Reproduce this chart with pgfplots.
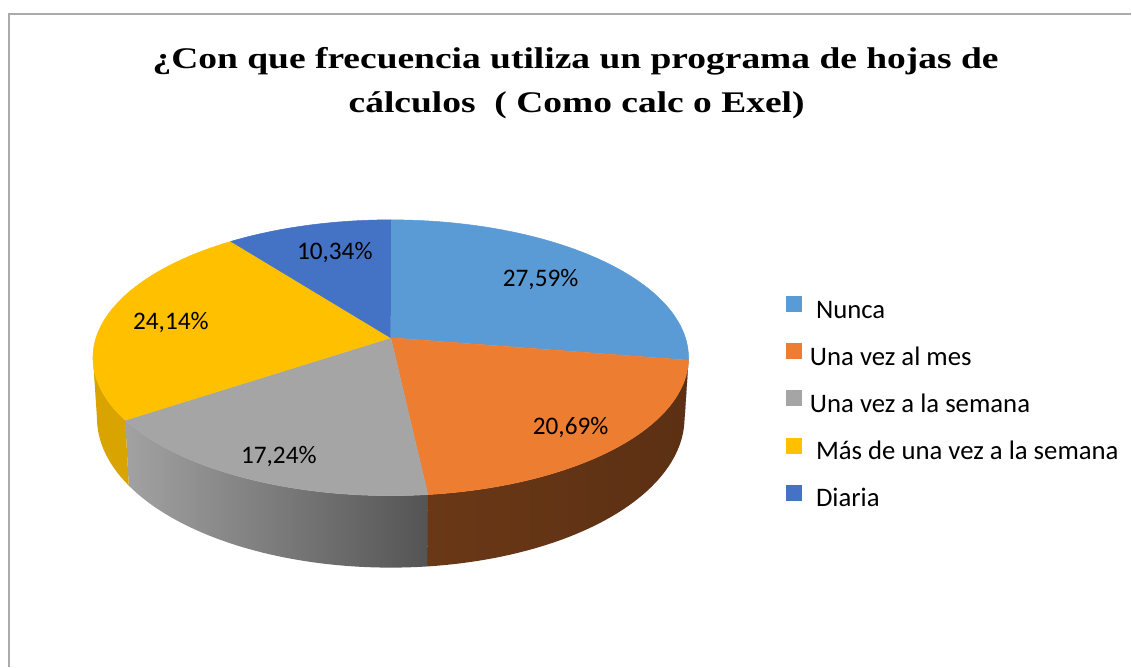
\documentclass[border=0pt]{standalone}
\usepackage{pgfplots}
\pgfplotsset{compat=1.18}
\usepackage{pgfplotstable}
\usepackage{fontspec}
\newfontfamily\carlito{Carlito}
\newfontfamily\titlefont{Liberation Serif}[FakeStretch=1.25]

\definecolor{c1}{HTML}{5B9BD5}
\definecolor{c2}{HTML}{ED7D31}
\definecolor{c3}{HTML}{A5A5A5}
\definecolor{c4}{HTML}{FFC000}
\definecolor{c5}{HTML}{4472C4}
\definecolor{s1}{HTML}{3D6E9E}
\definecolor{s2a}{HTML}{6A3816}
\definecolor{s2b}{HTML}{5C3014}
\definecolor{s3a}{HTML}{A2A2A2}
\definecolor{s3b}{HTML}{545454}
\definecolor{s4}{HTML}{D9A400}
\definecolor{framec}{HTML}{ABABAB}

% shares (percent) of each answer
\pgfplotstableread{
value
27.59
20.69
17.24
24.14
10.34
}\piedata

\pgfplotstablegetelem{0}{value}\of\piedata\edef\vA{\pgfplotsretval}
\pgfplotstablegetelem{1}{value}\of\piedata\edef\vB{\pgfplotsretval}
\pgfplotstablegetelem{2}{value}\of\piedata\edef\vC{\pgfplotsretval}
\pgfplotstablegetelem{3}{value}\of\piedata\edef\vD{\pgfplotsretval}
\pgfplotstablegetelem{4}{value}\of\piedata\edef\vE{\pgfplotsretval}

% true angles of slice borders (clockwise from 12 o'clock)
\pgfmathsetmacro\tA{90}
\pgfmathsetmacro\tB{\tA-3.6*\vA}
\pgfmathsetmacro\tC{\tB-3.6*\vB}
\pgfmathsetmacro\tD{\tC-3.6*\vC}
\pgfmathsetmacro\tE{\tD-3.6*\vD}
\pgfmathsetmacro\tF{\tE-3.6*\vE}

% perspective (projective) shift of the disc
\def\ps{-0.145}
\newcommand\mapang[2]{%
 \pgfmathsetmacro\pmU{cos(#1)}%
 \pgfmathsetmacro\pmV{-sin(#1)}%
 \pgfmathsetmacro\pmD{1+(\ps)*(\pmV)}%
 \pgfmathsetmacro\pmVp{((\pmV)+(\ps))/(\pmD)}%
 \pgfmathsetmacro\pmUp{(\pmU)*sqrt(1-(\ps)*(\ps))/(\pmD)}%
 \pgfmathsetmacro#2{atan2(-(\pmVp),\pmUp)}%
}
\mapang{\tA}{\pA}
\mapang{\tB}{\pB}
\mapang{\tC}{\pC}
\mapang{\tD}{\pD}
\mapang{\tE}{\pE}
\mapang{\tF}{\pF}
\pgfmathsetmacro\pB{(\pB)>(\pA) ? (\pB)-360 : (\pB)}
\pgfmathsetmacro\pC{(\pC)>(\pB) ? (\pC)-360 : (\pC)}
\pgfmathsetmacro\pD{(\pD)>(\pC) ? (\pD)-360 : (\pD)}
\pgfmathsetmacro\pE{(\pE)>(\pD) ? (\pE)-360 : (\pE)}
\pgfmathsetmacro\pF{(\pF)>(\pE) ? (\pF)-360 : (\pF)}

% geometry (pixel units)
\def\cx{391}\def\cy{358}\def\rx{298}\def\ry{138}
\def\cyb{418}\def\ryb{150}\def\rxb{294}
\pgfmathsetmacro\apy{\cy+(\ps)*\ry}

% visible side ranges
\pgfmathsetmacro\hiA{min(\pA,0)}\pgfmathsetmacro\loA{max(\pB,-180)}
\pgfmathsetmacro\hiB{min(\pB,0)}\pgfmathsetmacro\loB{max(\pC,-180)}
\pgfmathsetmacro\hiC{min(\pC,0)}\pgfmathsetmacro\loC{max(\pD,-180)}
\pgfmathsetmacro\hiD{min(\pD,0)}\pgfmathsetmacro\loD{max(\pE,-180)}

\newcommand\topslice[3]{% color, start, end
 \addplot[draw=#1, line width=0.2bp, fill=#1, forget plot, samples at={-1,0,0.02,...,1.001}, variable=\t]
  ({\t<0 ? \cx : \cx+\rx*cos(#2+((#3)-(#2))*\t)},
   {\t<0 ? \apy : \cy-\ry*sin(#2+((#3)-(#2))*\t)});
}
\newcommand\sidewall[3]{% style, hi, lo
 \addplot[draw=none, #1, forget plot, samples at={0,0.02,...,2.001}, variable=\t]
  ({\t<1.01 ? \cx+\rx*cos(#2+((#3)-(#2))*min(\t,1)) : \cx+\rxb*cos(#3+((#2)-(#3))*max(\t-1.02,0)/0.98)},
   {\t<1.01 ? \cy-\ry*sin(#2+((#3)-(#2))*min(\t,1)) : \cyb-\ryb*sin(#3+((#2)-(#3))*max(\t-1.02,0)/0.98)});
}

\begin{document}
\begin{tikzpicture}
\begin{axis}[
  x=0.4bp, y=0.4bp,
  xmin=0, xmax=1132, ymin=0, ymax=667,
  y dir=reverse,
  hide axis, clip=false,
  legend style={draw=none, fill=none, at={(axis cs:786,296)}, anchor=north west,
    font=\carlito\fontsize{10.7bp}{12bp}\selectfont,
    inner sep=0pt, row sep=6.45bp,
    nodes={inner sep=1bp, text height=7.5bp, text depth=2.5bp},
    /tikz/every odd column/.append style={column sep=2.2bp}},
  legend cell align=left,
]
\path (axis cs:0,0) rectangle (axis cs:1132,667);
\draw[framec, line width=0.6bp] (axis cs:9,667) -- (axis cs:9,14) -- (axis cs:1132,14);

% side walls
\sidewall{fill=s1}{\hiA}{\loA}
\sidewall{left color=s2a, right color=s2b}{\hiB}{\loB}
\sidewall{left color=s3a, right color=s3b}{\hiC}{\loC}
\sidewall{fill=s4}{\hiD}{\loD}

% top faces
\topslice{c1}{\pA}{\pB}
\topslice{c2}{\pB}{\pC}
\topslice{c3}{\pC}{\pD}
\topslice{c4}{\pD}{\pE}
\topslice{c5}{\pE}{\pF}

% data labels
\begin{scope}[font=\carlito\fontsize{10.1bp}{12bp}\selectfont]
\node at (axis cs:541,280) {27,59\%};
\node at (axis cs:571,428) {20,69\%};
\node at (axis cs:279,457) {17,24\%};
\node at (axis cs:171,323) {24,14\%};
\node at (axis cs:335,253) {10,34\%};
\end{scope}

% title
\node[anchor=base, font=\titlefont\bfseries\fontsize{12bp}{13bp}\selectfont] at (axis cs:576,69) {¿Con que frecuencia utiliza un programa de hojas de};
\node[anchor=base, font=\titlefont\bfseries\fontsize{12bp}{13bp}\selectfont] at (axis cs:577,113) {cálculos \ ( Como calc o Exel)};

% legend
\addlegendimage{legend image code/.code={\fill[c1] (0bp,0.2bp) rectangle (6bp,6.2bp);}}
\addlegendentry{\ Nunca}
\addlegendimage{legend image code/.code={\fill[c2] (0bp,0.2bp) rectangle (6bp,6.2bp);}}
\addlegendentry{Una vez al mes}
\addlegendimage{legend image code/.code={\fill[c3] (0bp,0.2bp) rectangle (6bp,6.2bp);}}
\addlegendentry{Una vez a la semana}
\addlegendimage{legend image code/.code={\fill[c4] (0bp,0.2bp) rectangle (6bp,6.2bp);}}
\addlegendentry{\ Más de una vez a la semana}
\addlegendimage{legend image code/.code={\fill[c5] (0bp,0.2bp) rectangle (6bp,6.2bp);}}
\addlegendentry{\ Diaria}
\end{axis}
\end{tikzpicture}
\end{document}
